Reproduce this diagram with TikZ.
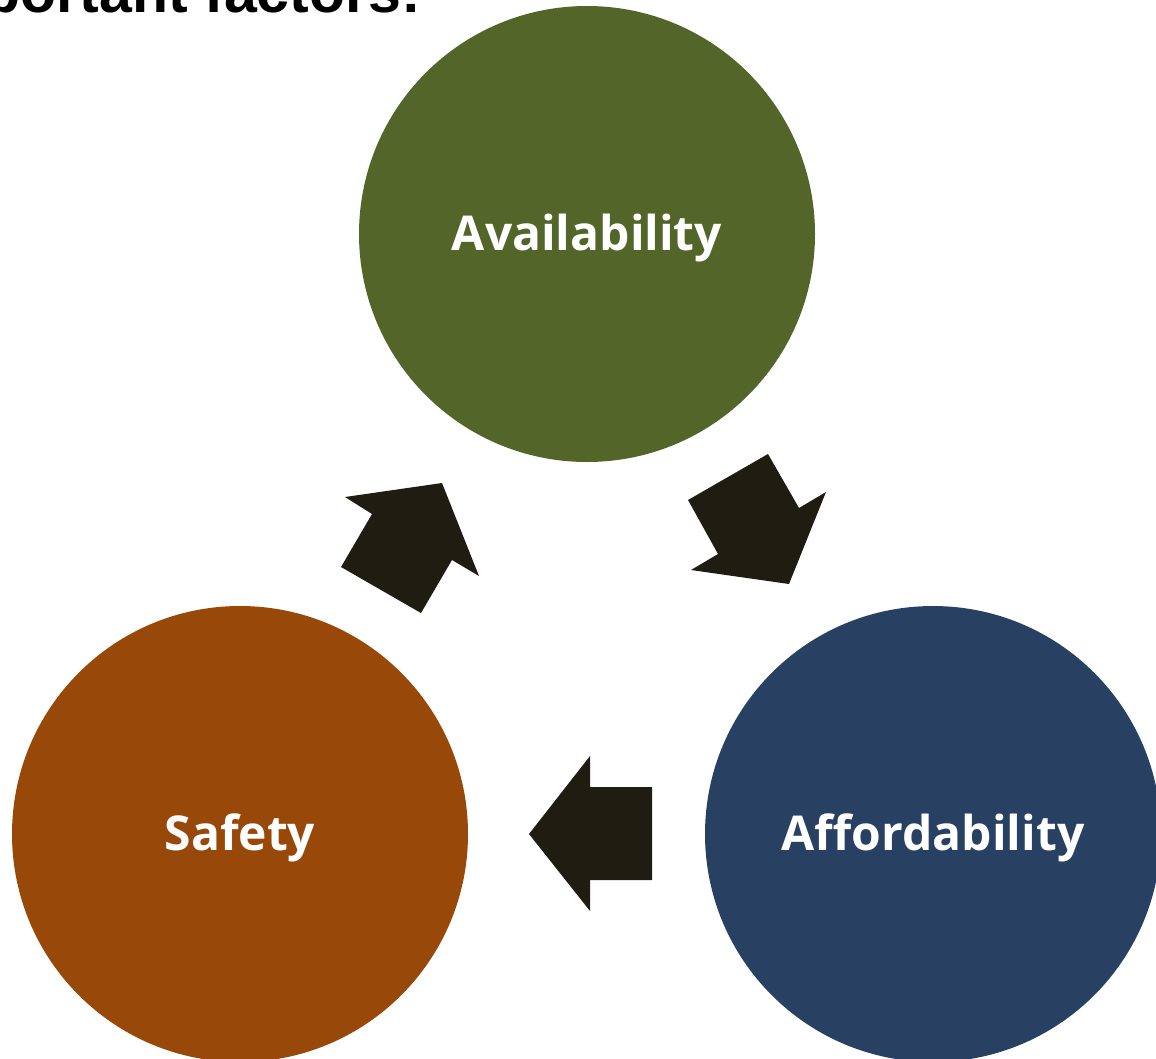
\documentclass[tikz,border=0pt]{standalone}
\usepackage{fontspec}
\newfontfamily\labfont{Open Sans}
\newfontfamily\headfont{Liberation Sans}
\definecolor{cgreen}{HTML}{536529}
\definecolor{corange}{HTML}{984808}
\definecolor{cnavy}{HTML}{284163}
\definecolor{carrow}{HTML}{1F1D12}
\tikzset{
  factor/.style={circle, minimum size=456pt, inner sep=0pt, text=white,
    text height=32pt, text depth=0pt,
    font=\labfont\bfseries\fontsize{48}{58}\selectfont},
  blockarrow/.style={fill=carrow, draw=none}
}
\begin{document}
\begin{tikzpicture}[x=1pt,y=-1pt]
\useasboundingbox (0,0) rectangle (1156,1058);
\node[anchor=base east, inner sep=0pt, font=\headfont\bfseries\fontsize{59}{70}\selectfont] (head) at (421,12) {important factors:};
\node[factor, fill=cgreen] (avail) at (587,234) {Availability};
\node[factor, fill=corange] (safe) at (240,834) {Safety};
\node[factor, fill=cnavy] (afford) at (933,834) {Affordability};
% block arrows
\fill[blockarrow] (345,497) -- (442,483) -- (479,576) -- (452,560) -- (421,613) -- (341,567) -- (372,514) -- cycle;
\fill[blockarrow] (688,500) -- (768,454) -- (799,508) -- (826,492) -- (789,584) -- (691,570) -- (718,554) -- cycle;
\fill[blockarrow] (529,834) -- (590,756) -- (590,787) -- (652,787) -- (652,880) -- (590,880) -- (590,911) -- cycle;
\end{tikzpicture}
\end{document}
